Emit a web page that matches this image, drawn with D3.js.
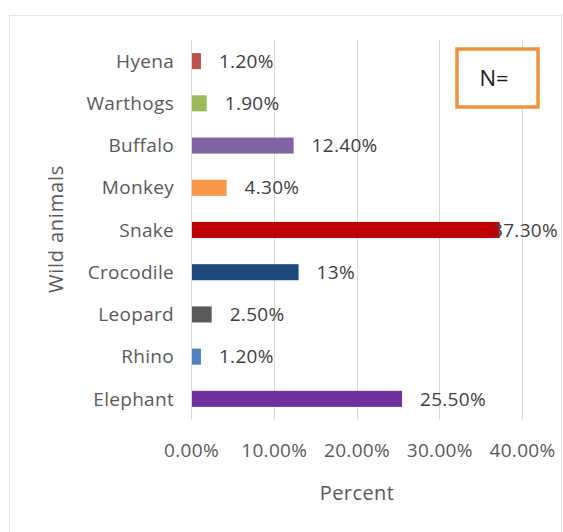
<!DOCTYPE html>
<html>
<head>
<meta charset="utf-8">
<script src="https://cdn.jsdelivr.net/npm/d3@7"></script>
<style>
  html, body { margin: 0; padding: 0; background: #ffffff; }
  svg { display: block; }
  text { font-family: "Open Sans", "Noto Sans", sans-serif; }
</style>
</head>
<body>
<svg id="chart" width="563" height="532"></svg>
<script>
const categories = ["Hyena", "Warthogs", "Buffalo", "Monkey", "Snake", "Crocodile", "Leopard", "Rhino", "Elephant"];
const values = [1.2, 1.9, 12.4, 4.3, 37.3, 13, 2.5, 1.2, 25.5];
const valueLabels = ["1.20%", "1.90%", "12.40%", "4.30%", "37.30%", "13%", "2.50%", "1.20%", "25.50%"];
const colors = ["#C0504D", "#9BBB59", "#8064A2", "#F79646", "#C00000", "#1F497D", "#595959", "#4F81BD", "#7030A0"];
const tickValues = [0, 10, 20, 30, 40];
const tickLabels = ["0.00%", "10.00%", "20.00%", "30.00%", "40.00%"];
const xTitle = "Percent";
const yTitle = "Wild animals";
const boxText = "N=";

const svg = d3.select("#chart");

// outer chart border
svg.append("rect")
  .attr("x", 9.5).attr("y", 15.5).attr("width", 552).attr("height", 530)
  .attr("fill", "none").attr("stroke", "#e6e6e6").attr("stroke-width", 1);

const x = d3.scaleLinear().domain([0, 40]).range([191, 522]);
const y = d3.scaleBand().domain(categories).range([40, 420]).paddingInner(0.62).paddingOuter(0.31);

// gridlines
svg.append("g").selectAll("line").data(tickValues).join("line")
  .attr("x1", d => Math.round(x(d)) + 0.5).attr("x2", d => Math.round(x(d)) + 0.5)
  .attr("y1", 40).attr("y2", 420)
  .attr("stroke", "#d9d9d9").attr("stroke-width", 1);

// x tick labels via axis
const xAxis = d3.axisBottom(x).tickValues(tickValues)
  .tickFormat((d, i) => tickLabels[i]).tickSize(0).tickPadding(0);
const gx = svg.append("g").attr("transform", "translate(0,440)").call(xAxis);
gx.select(".domain").remove();
gx.selectAll("text").attr("font-size", 19).attr("fill", "#595959")
  .attr("font-family", "'Open Sans', sans-serif").attr("dy", "0.9em").attr("letter-spacing", "0.3");

// y category labels via axis
const yAxis = d3.axisLeft(y).tickSize(0).tickPadding(0);
const gy = svg.append("g").attr("transform", "translate(174,0)").call(yAxis);
gy.select(".domain").remove();
gy.selectAll("text").attr("font-size", 19).attr("fill", "#595959")
  .attr("font-family", "'Open Sans', sans-serif").attr("dy", "0.35em").attr("letter-spacing", "0.3");

// bars
svg.append("g").selectAll("rect").data(categories).join("rect")
  .attr("x", x(0) + 1)
  .attr("y", d => y(d))
  .attr("width", (d, i) => x(values[i]) - x(0) - 1)
  .attr("height", y.bandwidth())
  .attr("fill", (d, i) => colors[i]);

// data labels
const labelRight = 558;
svg.append("g").selectAll("text").data(categories).join("text")
  .attr("font-size", 19).attr("fill", "#404040").attr("letter-spacing", "0.3")
  .attr("y", d => y(d) + y.bandwidth() / 2)
  .attr("dy", "0.35em")
  .text((d, i) => valueLabels[i])
  .each(function(d, i) {
    const t = d3.select(this);
    const w = this.getComputedTextLength();
    let xs = x(values[i]) + 18;
    if (xs + w > labelRight) xs = labelRight - w;
    t.attr("x", xs);
  });

// axis titles
svg.append("text").attr("x", 357).attr("y", 500).attr("text-anchor", "middle")
  .attr("font-size", 20).attr("fill", "#595959").attr("letter-spacing", "0.4").text(xTitle);
svg.append("text").attr("transform", "translate(63,229) rotate(-90)").attr("text-anchor", "middle")
  .attr("font-size", 20).attr("fill", "#595959").attr("letter-spacing", "0.8").text(yTitle);

// N= box
svg.append("rect").attr("x", 457).attr("y", 49).attr("width", 81).attr("height", 58)
  .attr("fill", "#ffffff").attr("stroke", "#F0923C").attr("stroke-width", 3.5);
svg.append("text").attr("x", 494).attr("y", 78).attr("dy", "0.35em").attr("text-anchor", "middle")
  .attr("font-size", 22).attr("fill", "#1a1a1a").text(boxText);
</script>
</body>
</html>
